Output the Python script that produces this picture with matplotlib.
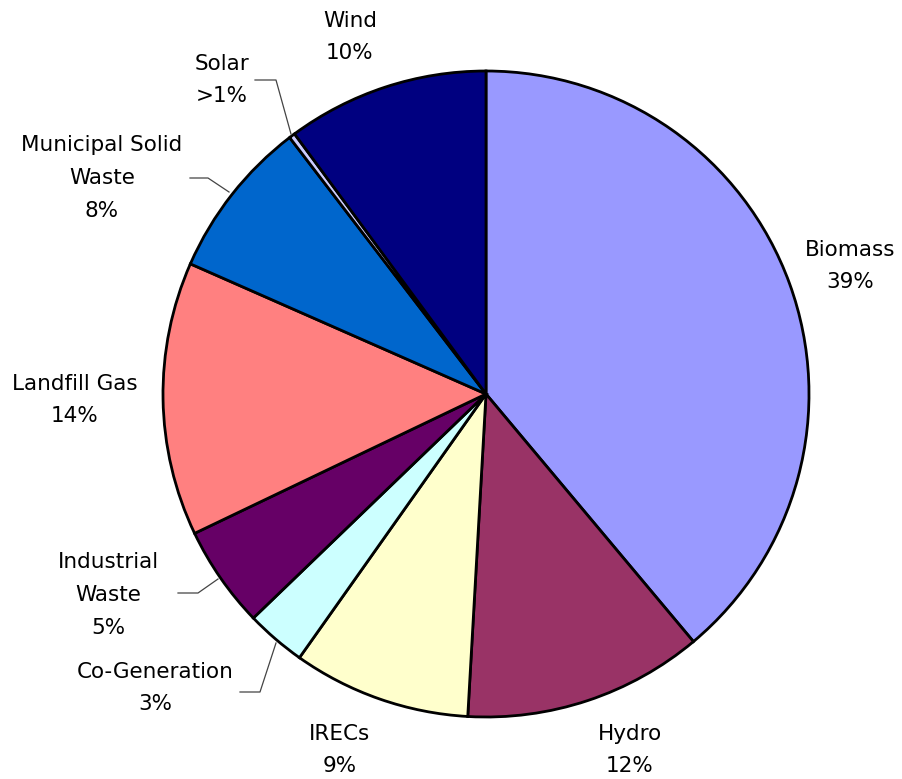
import numpy as np
import matplotlib.pyplot as plt

# data
labels = ['Biomass', 'Hydro', 'IRECs', 'Co-Generation', 'Industrial\nWaste',
          'Landfill Gas', 'Municipal Solid\nWaste', 'Solar', 'Wind']
shares = [38.9, 12.0, 8.9, 3.0, 5.1, 13.7, 8.0, 0.3, 10.1]
pct_text = ['39%', '12%', '9%', '3%', '5%', '14%', '8%', '>1%', '10%']
colors = ['#9999FF', '#993366', '#FFFFCC', '#CCFFFF', '#660066',
          '#FF8080', '#0066CC', '#CCCCFF', '#000080']

W, H = 902, 779
cx, cy, R = 486, 394, 323


def px(x, y):
    # pixel position -> data coords (pie radius = 1)
    return (x - cx) / R, (cy - y) / R


fig = plt.figure(figsize=(W / 100, H / 100), dpi=100)
ax = fig.add_axes([0, 0, 1, 1])
ax.pie(shares, colors=colors, startangle=90, counterclock=False, radius=1,
       wedgeprops=dict(edgecolor='black', linewidth=2))
ax.set_xlim(-cx / R, (W - cx) / R)
ax.set_ylim(-(H - cy) / R, cy / R)
ax.set_aspect('auto')
ax.axis('off')

# label centres (pixels) and leader lines
label_pos = [(850, 266), (630, 750), (340, 750), (155, 688), (108, 595),
             (75, 400), (102, 178), (222, 80), (350, 37)]
leaders = {
    3: [(240, 692), (260, 692), (276, 643)],
    4: [(178, 593), (198, 593), (218, 579)],
    6: [(190, 178), (208, 178), (229, 192)],
    7: [(255, 80), (276, 80), (291, 134)],
}

for i, (lab, p) in enumerate(zip(labels, pct_text)):
    x, y = px(*label_pos[i])
    ax.text(x, y, lab + '\n' + p, ha='center', va='center', fontsize=15.5,
            family='DejaVu Sans', linespacing=1.8)

for pts in leaders.values():
    xs, ys = zip(*[px(a, b) for a, b in pts])
    ax.plot(xs, ys, color='#444444', lw=0.9)

fig.savefig('out.png', dpi=100)
